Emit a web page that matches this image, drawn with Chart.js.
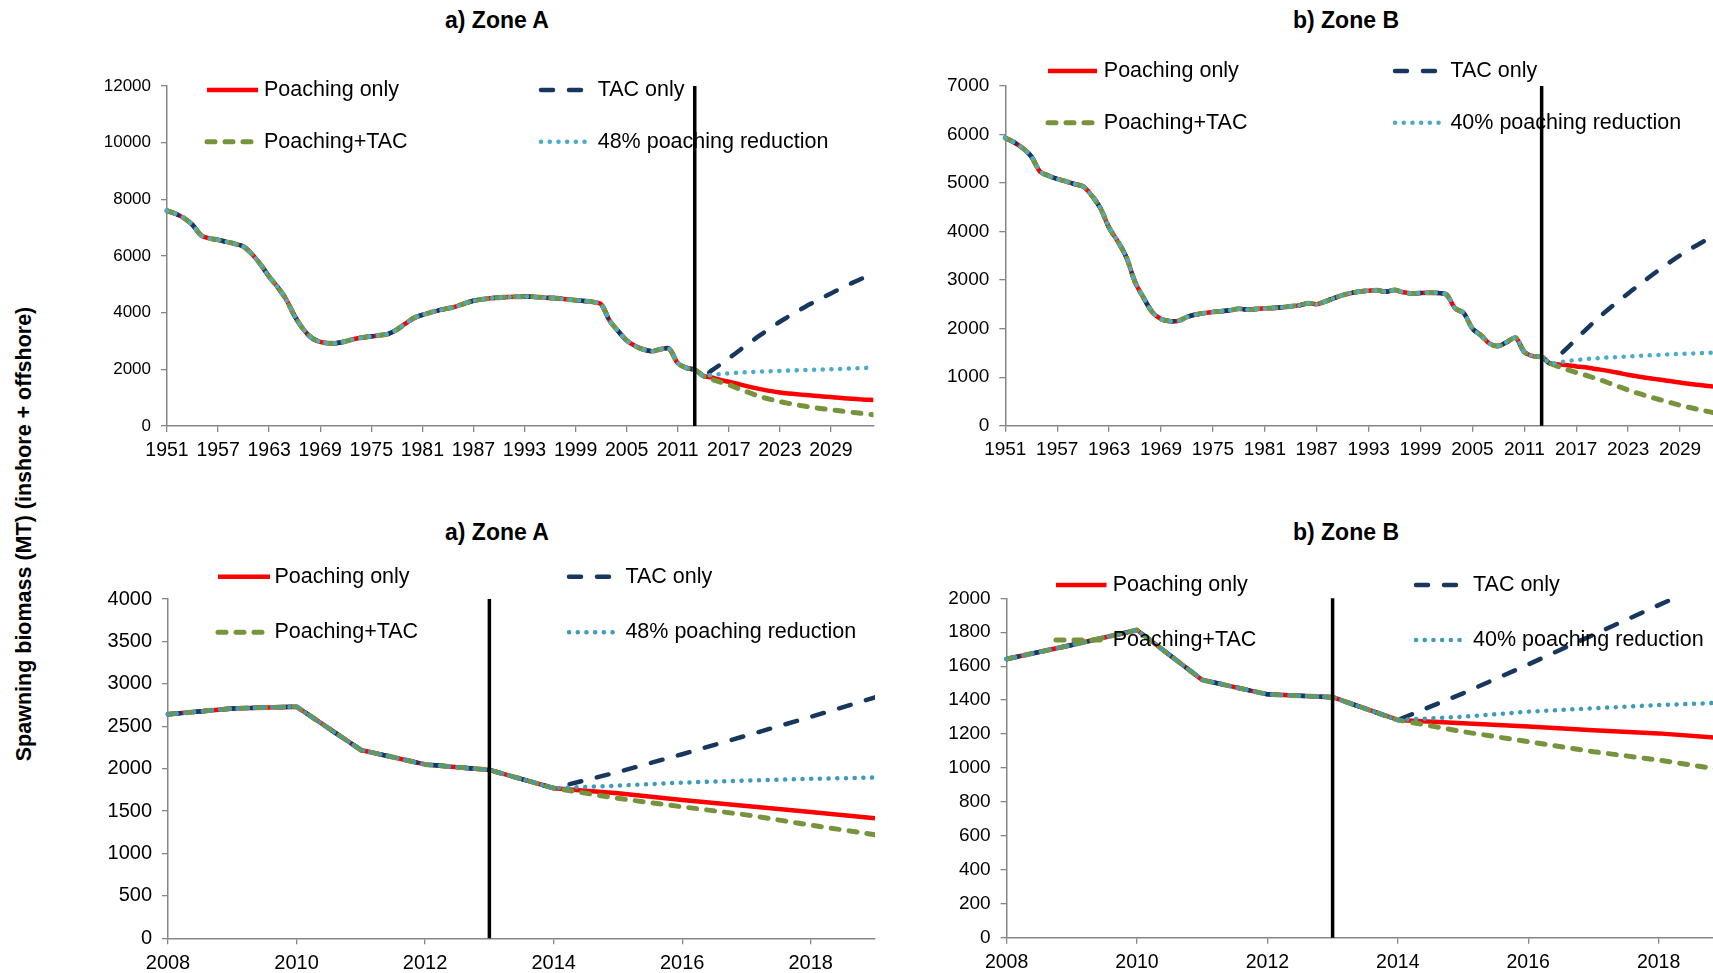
<!DOCTYPE html>
<html>
<head>
<meta charset="utf-8">
<title>Spawning biomass projections</title>
<script src="https://cdn.jsdelivr.net/npm/chart.js@4.4.1/dist/chart.umd.min.js"></script>
<style>
  html, body { margin: 0; padding: 0; background: #fff; }
  body { width: 1713px; height: 973px; overflow: hidden; position: relative;
         font-family: 'Liberation Sans', Arial, sans-serif; }
  canvas { position: absolute; }
  .panel-title { position: absolute; font-weight: bold; font-size: 23px; color: #000;
                 transform: translate(-50%, -50%); white-space: nowrap; }
  .axis-title { position: absolute; font-weight: bold; font-size: 21.5px; color: #000;
                transform: translate(-50%, -50%) rotate(-90deg); white-space: nowrap; }
</style>
</head>
<body>
<div class="panel-title" style="left:497px; top:20px;">a) Zone A</div>
<div class="panel-title" style="left:1346px; top:20px;">b) Zone B</div>
<div class="panel-title" style="left:497px; top:532px;">a) Zone A</div>
<div class="panel-title" style="left:1346px; top:532px;">b) Zone B</div>
<div class="axis-title" style="left:24px; top:534px;">Spawning biomass (MT) (inshore + offshore)</div>

<canvas id="zoneA_full" width="900" height="470" style="left:0px; top:0px;"></canvas>
<canvas id="zoneB_full" width="900" height="470" style="left:860px; top:0px;"></canvas>
<canvas id="zoneA_recent" width="900" height="503" style="left:0px; top:470px;"></canvas>
<canvas id="zoneB_recent" width="900" height="503" style="left:860px; top:470px;"></canvas>

<script>
// ---- Years ----------------------------------------------------------------
const historyYears = [
  1951, 1952, 1953, 1954, 1955, 1956, 1957, 1958, 1959, 1960,
  1961, 1962, 1963, 1964, 1965, 1966, 1967, 1968, 1969, 1970,
  1971, 1972, 1973, 1974, 1975, 1976, 1977, 1978, 1979, 1980,
  1981, 1982, 1983, 1984, 1985, 1986, 1987, 1988, 1989, 1990,
  1991, 1992, 1993, 1994, 1995, 1996, 1997, 1998, 1999, 2000,
  2001, 2002, 2003, 2004, 2005, 2006, 2007, 2008, 2009, 2010,
  2011, 2012, 2013, 2014
];
const projectionYears = [
  2015, 2016, 2017, 2018, 2019, 2020, 2021, 2022, 2023, 2024,
  2025, 2026, 2027, 2028, 2029, 2030, 2031, 2032, 2033, 2034
];

// Tick labels
const fullTickYears = [1951, 1957, 1963, 1969, 1975, 1981, 1987, 1993, 1999, 2005, 2011, 2017, 2023, 2029];
const recentTickYears = [2008, 2010, 2012, 2014, 2016, 2018];

// ---- Zone A spawning biomass (MT) -----------------------------------------
const zoneA_history = [
  7600, 7490, 7340, 7100, 6730, 6620, 6570, 6500, 6430, 6330,
  6060, 5700, 5270, 4900, 4470, 3880, 3420, 3110, 2970, 2920,
  2930, 2990, 3070, 3125, 3165, 3200, 3250, 3400, 3610, 3810,
  3920, 4010, 4090, 4150, 4220, 4330, 4420, 4470, 4510, 4530,
  4550, 4565, 4565, 4560, 4540, 4520, 4505, 4470, 4440, 4410,
  4380, 4300, 3720, 3350, 3020, 2820, 2700, 2640, 2710, 2730,
  2220, 2050, 1985, 1770
];
const zoneA_poachingOnly = [1710, 1630, 1560, 1490, 1415, 1345, 1285, 1230, 1185, 1150,
                            1120, 1095, 1070, 1045, 1020, 995, 970, 950, 930, 915];
const zoneA_tacOnly      = [1960, 2170, 2390, 2610, 2840, 3060, 3270, 3480, 3680, 3860,
                            4040, 4210, 4370, 4530, 4680, 4830, 4980, 5120, 5250, 5380];
const zoneA_poachingTac  = [1650, 1550, 1455, 1335, 1220, 1110, 1010, 930, 860, 800,
                            745, 695, 650, 610, 570, 535, 500, 465, 430, 395];
const zoneA_reduction    = [1800, 1835, 1860, 1880, 1895, 1910, 1925, 1935, 1945, 1955,
                            1965, 1975, 1985, 1995, 2005, 2015, 2025, 2040, 2050, 2060];

// ---- Zone B spawning biomass (MT) -----------------------------------------
const zoneB_history = [
  5930, 5840, 5720, 5550, 5240, 5150, 5085, 5035, 4980, 4930,
  4740, 4480, 4080, 3800, 3470, 2960, 2630, 2340, 2200, 2155,
  2160, 2240, 2290, 2320, 2345, 2360, 2380, 2410, 2390, 2405,
  2420, 2425, 2440, 2460, 2480, 2525, 2505, 2560, 2630, 2690,
  2735, 2765, 2780, 2790, 2760, 2795, 2750, 2725, 2735, 2740,
  2735, 2700, 2420, 2320, 2000, 1860, 1690, 1642, 1725, 1813,
  1519, 1434, 1417, 1283
];
const zoneB_poachingOnly = [1263, 1244, 1222, 1204, 1175, 1150, 1120, 1085, 1050, 1020,
                            990, 965, 940, 915, 890, 865, 845, 825, 805, 785];
const zoneB_tacOnly      = [1440, 1610, 1785, 1960, 2130, 2290, 2440, 2585, 2725, 2865,
                            3000, 3135, 3265, 3390, 3510, 3620, 3725, 3825, 3920, 4010];
const zoneB_poachingTac  = [1214, 1155, 1096, 1047, 988, 930, 865, 800, 735, 675,
                            620, 570, 520, 470, 420, 380, 340, 300, 265, 235];
const zoneB_reduction    = [1302, 1332, 1352, 1371, 1385, 1398, 1408, 1418, 1428, 1437,
                            1446, 1455, 1463, 1471, 1479, 1486, 1493, 1500, 1506, 1512];

const assessmentYear = 2013;

// ---- Helpers ----------------------------------------------------------------
const FONT = "'Liberation Sans', Arial, sans-serif";
const AXIS_GREY = '#868686';

// joins the shared history with one scenario, limited to [fromYear, toYear]
function scenarioPoints(history, projection, fromYear, toYear) {
  const years = historyYears.concat(projectionYears);
  const values = history.concat(projection);
  const pts = [];
  years.forEach((yr, i) => {
    if (yr >= fromYear && yr <= toYear) pts.push({ x: yr, y: values[i] });
  });
  return pts;
}

// vertical rule marking the last assessed year
const yearMarker = {
  id: 'yearMarker',
  afterDatasetsDraw(chart, args, opts) {
    const ctx = chart.ctx;
    const x = chart.scales.x.getPixelForValue(opts.value);
    const { top, bottom } = chart.chartArea;
    ctx.save();
    ctx.strokeStyle = '#000';
    ctx.lineWidth = 3.5;
    ctx.beginPath();
    ctx.moveTo(x, top);
    ctx.lineTo(x, bottom);
    ctx.stroke();
    ctx.restore();
  }
};

// two-column key placed inside the plot, drawn with each dataset's own stroke
const seriesKey = {
  id: 'seriesKey',
  afterDraw(chart, args, opts) {
    const ctx = chart.ctx;
    opts.items.forEach(item => {
      const ds = chart.data.datasets[item.dataset];
      ctx.save();
      ctx.strokeStyle = ds.borderColor;
      ctx.lineWidth = ds.borderWidth;
      ctx.lineCap = ds.borderCapStyle || 'butt';
      ctx.setLineDash(ds.borderDash || []);
      ctx.beginPath();
      ctx.moveTo(item.x0 - opts.offsetX, item.y - opts.offsetY);
      ctx.lineTo(item.x1 - opts.offsetX, item.y - opts.offsetY);
      ctx.stroke();
      ctx.setLineDash([]);
      ctx.fillStyle = '#000';
      ctx.font = '21.5px ' + FONT;
      ctx.textBaseline = 'middle';
      ctx.textAlign = 'left';
      ctx.fillText(ds.label, item.tx - opts.offsetX, item.y - opts.offsetY);
      ctx.restore();
    });
  }
};

function buildPanel(cfg) {
  const canvas = document.getElementById(cfg.id);
  const W = canvas.width, H = canvas.height;
  const a = cfg.area; // plot rectangle in canvas pixels
  const clipTop = cfg.clipTop ? 0 : 6;
  const styles = [
    { label: 'Poaching only', data: cfg.poaching, borderColor: '#FF0000', borderWidth: 4.5,
      borderDash: [], borderCapStyle: 'butt', order: 3 },
    { label: 'TAC only', data: cfg.tac, borderColor: '#17375E', borderWidth: 4.5,
      borderDash: [12, 16], borderCapStyle: 'round', order: 2 },
    { label: 'Poaching+TAC', data: cfg.poachTac, borderColor: '#77933C', borderWidth: 5,
      borderDash: [8, 10], borderCapStyle: 'round', order: 1 },
    { label: cfg.reductionLabel, data: cfg.reduction, borderColor: cfg.tealColor, borderWidth: 4.5,
      borderDash: [0.1, 8.6], borderCapStyle: 'round', order: 0 }
  ];
  const datasets = styles.map(s => Object.assign({
    fill: false, pointRadius: 0, tension: cfg.tension, borderJoinStyle: 'round',
    clip: { left: 6, right: 0, top: clipTop, bottom: 6 }
  }, s));

  return new Chart(canvas, {
    type: 'line',
    data: { datasets },
    options: {
      responsive: false,
      animation: false,
      devicePixelRatio: 1,
      layout: { padding: { left: 0, top: a.top, right: W - a.right, bottom: 0 } },
      plugins: {
        legend: { display: false },
        tooltip: { enabled: false },
        yearMarker: { value: assessmentYear },
        seriesKey: { items: cfg.keyItems, offsetX: cfg.offsetX, offsetY: cfg.offsetY }
      },
      scales: {
        x: {
          type: 'linear',
          min: cfg.xMin,
          max: cfg.xMax,
          afterBuildTicks(scale) { scale.ticks = cfg.xTicks.map(v => ({ value: v })); },
          afterFit(scale) { scale.height = H - a.bottom; },
          grid: { drawOnChartArea: false, drawTicks: true, tickLength: 6, color: AXIS_GREY, lineWidth: 1.3 },
          border: { display: true, color: AXIS_GREY, width: 1.5 },
          ticks: { color: '#000', font: { family: FONT, size: cfg.xFont }, padding: 7,
                   maxRotation: 0, autoSkip: false, callback: v => String(v) }
        },
        y: {
          min: 0,
          max: cfg.yMax,
          afterFit(scale) { scale.width = a.left; },
          grid: { drawOnChartArea: false, drawTicks: true, tickLength: 6, color: AXIS_GREY, lineWidth: 1.3 },
          border: { display: true, color: AXIS_GREY, width: 1.5 },
          ticks: { stepSize: cfg.yStep, color: '#000', font: { family: FONT, size: cfg.yFont }, padding: 10,
                   callback: v => String(v) }
        }
      }
    },
    plugins: [yearMarker, seriesKey]
  });
}

function keyLayout(row1, row2, c1, c2) {
  return [
    { dataset: 0, y: row1, x0: c1.x0, x1: c1.x1, tx: c1.tx },
    { dataset: 1, y: row1, x0: c2.x0, x1: c2.x1, tx: c2.tx },
    { dataset: 2, y: row2, x0: c1.x0, x1: c1.x1, tx: c1.tx },
    { dataset: 3, y: row2, x0: c2.x0, x1: c2.x1, tx: c2.tx }
  ];
}

// ---- a) Zone A, 1951-2034 ----------------------------------------------------
buildPanel({
  id: 'zoneA_full', offsetX: 0, offsetY: 0,
  area: { left: 167, top: 86, right: 873.5, bottom: 426 },
  xMin: 1951, xMax: 2034, xTicks: fullTickYears, yMax: 12000, yStep: 2000, tension: 0.3,
  xFont: 19.5, yFont: 17,
  poaching: scenarioPoints(zoneA_history, zoneA_poachingOnly, 1951, 2034),
  tac: scenarioPoints(zoneA_history, zoneA_tacOnly, 1951, 2034),
  poachTac: scenarioPoints(zoneA_history, zoneA_poachingTac, 1951, 2034),
  reduction: scenarioPoints(zoneA_history, zoneA_reduction, 1951, 2034),
  reductionLabel: '48% poaching reduction', tealColor: '#4BACC6',
  keyItems: keyLayout(90, 141.7, { x0: 207, x1: 258, tx: 264 }, { x0: 541, x1: 587, tx: 597.7 })
});

// ---- b) Zone B, 1951-2034 ----------------------------------------------------
buildPanel({
  id: 'zoneB_full', offsetX: 860, offsetY: 0,
  area: { left: 145.3, top: 86, right: 863.3, bottom: 425.7 },
  xMin: 1951, xMax: 2034, xTicks: fullTickYears, yMax: 7000, yStep: 1000, tension: 0.3,
  xFont: 19, yFont: 19,
  poaching: scenarioPoints(zoneB_history, zoneB_poachingOnly, 1951, 2034),
  tac: scenarioPoints(zoneB_history, zoneB_tacOnly, 1951, 2034),
  poachTac: scenarioPoints(zoneB_history, zoneB_poachingTac, 1951, 2034),
  reduction: scenarioPoints(zoneB_history, zoneB_reduction, 1951, 2034),
  reductionLabel: '40% poaching reduction', tealColor: '#4BACC6',
  keyItems: keyLayout(71, 122.7, { x0: 1048, x1: 1097, tx: 1103.8 }, { x0: 1395, x1: 1439, tx: 1450.4 })
});

// ---- a) Zone A, 2008-2019 ----------------------------------------------------
buildPanel({
  id: 'zoneA_recent', offsetX: 0, offsetY: 470,
  area: { left: 168, top: 129, right: 875, bottom: 468.3 },
  xMin: 2008, xMax: 2019, xTicks: recentTickYears, yMax: 4000, yStep: 500, tension: 0,
  xFont: 20, yFont: 20,
  poaching: scenarioPoints(zoneA_history, zoneA_poachingOnly, 2008, 2019),
  tac: scenarioPoints(zoneA_history, zoneA_tacOnly, 2008, 2019),
  poachTac: scenarioPoints(zoneA_history, zoneA_poachingTac, 2008, 2019),
  reduction: scenarioPoints(zoneA_history, zoneA_reduction, 2008, 2019),
  reductionLabel: '48% poaching reduction', tealColor: '#3C9CBA',
  keyItems: keyLayout(576.7, 632.3, { x0: 218, x1: 270, tx: 274.5 }, { x0: 569, x1: 614.7, tx: 625.4 })
});

// ---- b) Zone B, 2008-2019 ----------------------------------------------------
buildPanel({
  id: 'zoneB_recent', offsetX: 860, offsetY: 470, clipTop: true,
  area: { left: 146.6, top: 128.3, right: 863.8, bottom: 467.7 },
  xMin: 2008, xMax: 2019, xTicks: recentTickYears, yMax: 2000, yStep: 200, tension: 0,
  xFont: 19.5, yFont: 19,
  poaching: scenarioPoints(zoneB_history, zoneB_poachingOnly, 2008, 2019),
  tac: scenarioPoints(zoneB_history, zoneB_tacOnly, 2008, 2019),
  poachTac: scenarioPoints(zoneB_history, zoneB_poachingTac, 2008, 2019),
  reduction: scenarioPoints(zoneB_history, zoneB_reduction, 2008, 2019),
  reductionLabel: '40% poaching reduction', tealColor: '#3C9CBA',
  keyItems: keyLayout(585, 640, { x0: 1056, x1: 1106.5, tx: 1112.7 }, { x0: 1416, x1: 1462, tx: 1473 })
});
</script>
</body>
</html>
